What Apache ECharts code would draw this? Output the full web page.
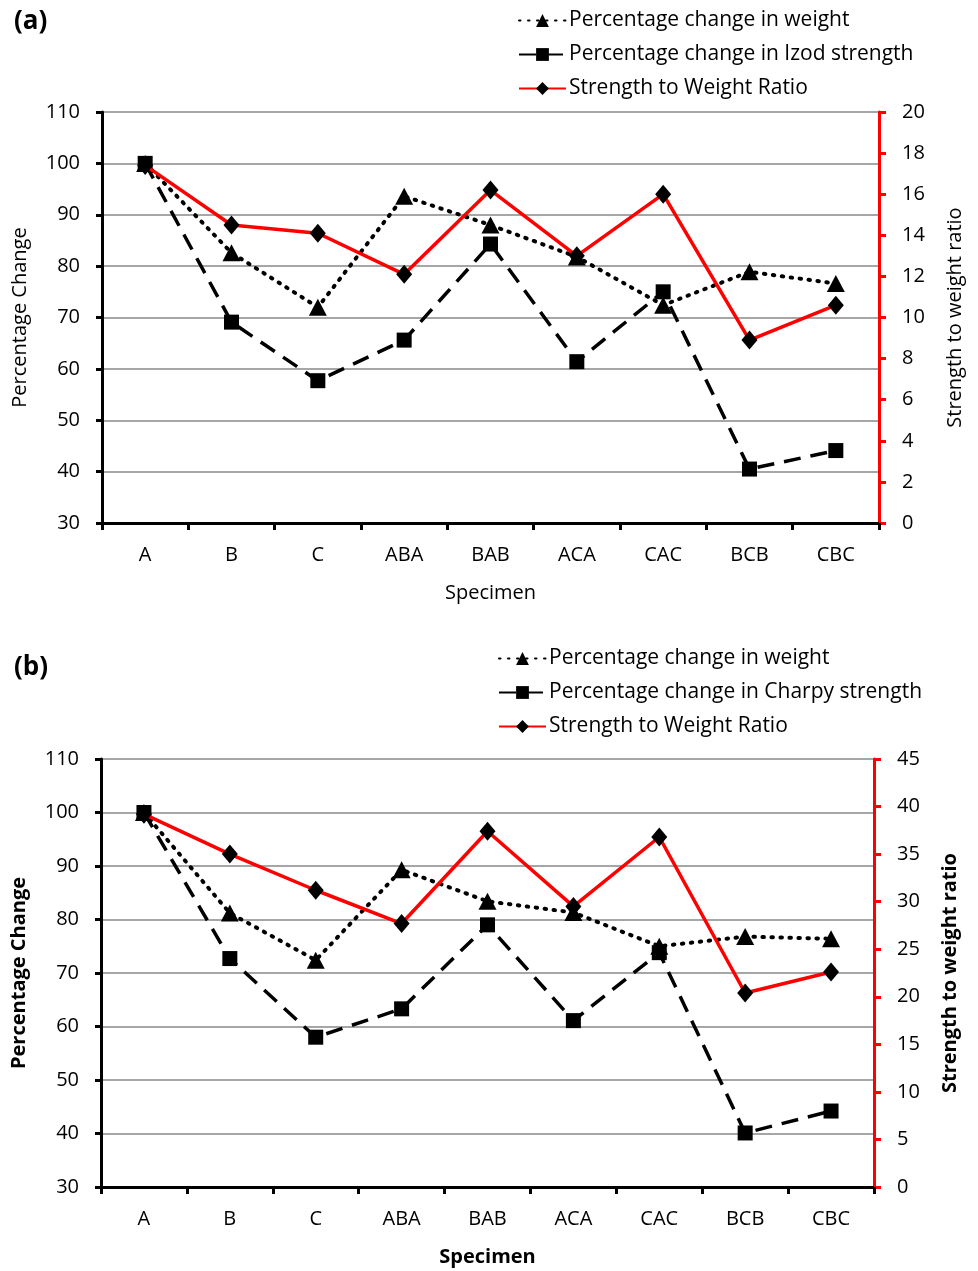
<!DOCTYPE html>
<html><head><meta charset="utf-8">
<script src="https://cdn.jsdelivr.net/npm/echarts@6/dist/echarts.min.js"></script>
<style>html,body{margin:0;padding:0;background:#fff}#c{width:978px;height:1271px}</style>
</head><body><div id="c"></div>
<script>
const categories = ['A','B','C','ABA','BAB','ACA','CAC','BCB','CBC'];
// Chart (a)
const weightA = [100, 82.6, 72.0, 93.6, 88.0, 81.8, 72.4, 78.9, 76.6];
const izodA = [100, 69.1, 57.7, 65.6, 84.3, 61.4, 75.0, 40.5, 44.1];
const ratioA = [17.4, 14.5, 14.1, 12.1, 16.2, 13.0, 16.0, 8.9, 10.6];
// Chart (b)
const weightB = [100, 81.2, 72.4, 89.3, 83.4, 81.3, 75.0, 76.8, 76.4];
const charpyB = [100, 72.7, 58.0, 63.3, 79.0, 61.1, 73.8, 40.1, 44.2];
const ratioB = [39.2, 35.0, 31.2, 27.7, 37.4, 29.5, 36.8, 20.4, 22.6];
const leftTicks = [30, 110, 10];
const rightTicksA = [0, 20, 2];
const rightTicksB = [0, 45, 5];

const FONT = 'Open Sans';
const NAMES = {
  w: 'Percentage change in weight',
  iz: 'Percentage change in Izod strength',
  ch: 'Percentage change in Charpy strength',
  r: 'Strength to Weight Ratio'
};

function xAx(gi, bold) {
  return {
    type: 'category', gridIndex: gi, data: categories, boundaryGap: true,
    name: 'Specimen', nameLocation: 'middle', nameGap: 60,
    nameTextStyle: {fontFamily: FONT, fontSize: 20, color: '#000', fontWeight: bold ? 'bold' : 'normal'},
    axisLine: {lineStyle: {color: '#000', width: 3}},
    axisTick: {show: true, alignWithLabel: false, length: 7, lineStyle: {color: '#000', width: 3}},
    axisLabel: {fontFamily: FONT, fontSize: 20, color: '#000', margin: 22},
    splitLine: {show: false}
  };
}
function yLeft(gi, bold) {
  return {
    type: 'value', gridIndex: gi, position: 'left', min: leftTicks[0], max: leftTicks[1], interval: leftTicks[2],
    name: 'Percentage Change', nameLocation: 'middle', nameGap: 72, nameRotate: 90,
    nameTextStyle: {fontFamily: FONT, fontSize: 20, color: '#000', fontWeight: bold ? 'bold' : 'normal'},
    axisLine: {show: true, lineStyle: {color: '#000', width: 3}},
    axisTick: {show: true, length: 6, lineStyle: {color: '#000', width: 3}},
    axisLabel: {fontFamily: FONT, fontSize: 20, color: '#000', margin: 22},
    splitLine: {show: true, lineStyle: {color: '#a6a6a6', width: 2}}
  };
}
function yRight(gi, ticks, bold) {
  return {
    type: 'value', gridIndex: gi, position: 'right', min: ticks[0], max: ticks[1], interval: ticks[2],
    name: 'Strength to weight ratio', nameLocation: 'middle', nameGap: 66, nameRotate: 90,
    nameTextStyle: {fontFamily: FONT, fontSize: 20, color: '#000', fontWeight: bold ? 'bold' : 'normal'},
    axisLine: {show: true, lineStyle: {color: '#ff0000', width: 3}},
    axisTick: {show: true, length: 7, lineStyle: {color: '#ff0000', width: 3}},
    axisLabel: {fontFamily: FONT, fontSize: 20, color: '#000', margin: 23},
    splitLine: {show: false}
  };
}
function weightSeries(name, data, xi, yi) {
  return {name, type: 'line', xAxisIndex: xi, yAxisIndex: yi, data,
    symbol: 'triangle', symbolSize: [18, 17], showAllSymbol: true,
    itemStyle: {color: '#000'}, lineStyle: {color: '#000', width: 4, type: [1.5, 7.5], cap: 'round'},
    z: 3};
}
function strengthSeries(name, data, xi, yi) {
  return {name, type: 'line', xAxisIndex: xi, yAxisIndex: yi, data,
    symbol: 'rect', symbolSize: 15, showAllSymbol: true,
    itemStyle: {color: '#000'}, lineStyle: {color: '#000', width: 3.5, type: [17, 10]},
    z: 4};
}
function ratioSeries(name, data, xi, yi) {
  return {name, type: 'line', xAxisIndex: xi, yAxisIndex: yi, data,
    symbol: 'diamond', symbolSize: [16, 19], showAllSymbol: true,
    itemStyle: {color: '#000'}, lineStyle: {color: '#ff0000', width: 3.5},
    z: 5};
}
function legend(left, top, names) {
  return {
    left, top, orient: 'vertical', itemGap: 13, itemWidth: 47, itemHeight: 16,
    data: names, selectedMode: false,
    textStyle: {fontFamily: FONT, fontSize: 21, color: '#000', padding: [0, 0, 0, -2]}
  };
}

const chart = echarts.init(document.getElementById('c'), null, {renderer: 'canvas'});
chart.setOption({
  animation: false,
  backgroundColor: '#fff',
  title: [
    {text: '(a)', left: 9, top: 4, textStyle: {fontFamily: FONT, fontSize: 26, fontWeight: 'bold', color: '#000'}},
    {text: '(b)', left: 9, top: 650, textStyle: {fontFamily: FONT, fontSize: 26, fontWeight: 'bold', color: '#000'}}
  ],
  legend: [
    legend(513, 5, [NAMES.w, NAMES.iz, NAMES.r]),
    legend(493, 643, [NAMES.w, NAMES.ch, NAMES.r])
  ],
  grid: [
    {left: 102, right: 99, top: 112, height: 411},
    {left: 101, right: 104, top: 759, height: 428}
  ],
  xAxis: [xAx(0, false), xAx(1, true)],
  yAxis: [yLeft(0, false), yRight(0, rightTicksA, false), yLeft(1, true), yRight(1, rightTicksB, true)],
  series: [
    weightSeries(NAMES.w, weightA, 0, 0),
    strengthSeries(NAMES.iz, izodA, 0, 0),
    ratioSeries(NAMES.r, ratioA, 0, 1),
    weightSeries(NAMES.w, weightB, 1, 2),
    strengthSeries(NAMES.ch, charpyB, 1, 2),
    ratioSeries(NAMES.r, ratioB, 1, 3)
  ]
});
</script></body></html>
